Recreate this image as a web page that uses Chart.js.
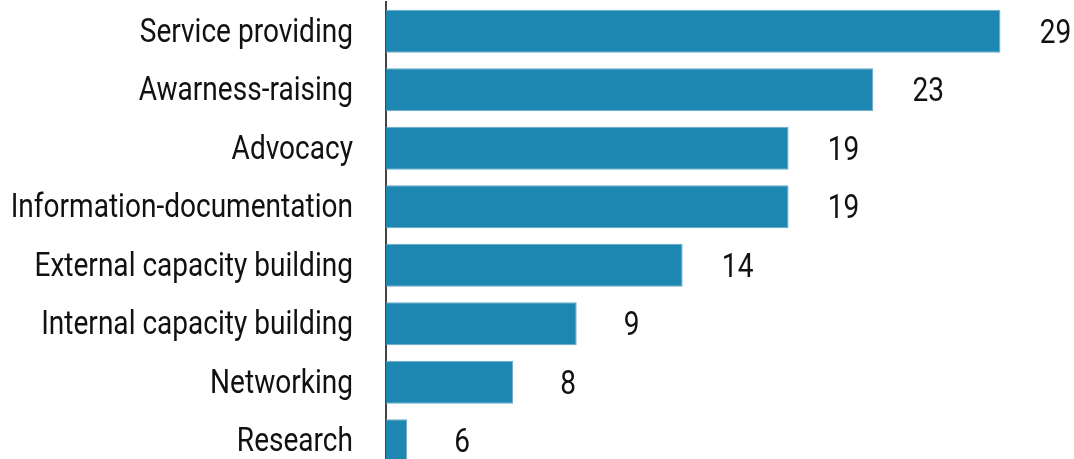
<!DOCTYPE html>
<html>
<head>
<meta charset="utf-8">
<script src="https://cdn.jsdelivr.net/npm/chart.js@4"></script>
<style>
  html, body { margin: 0; padding: 0; background: #fff; overflow: hidden; }
  #wrap { width: 1074px; height: 472px; position: relative; }
</style>
</head>
<body>
<div id="wrap"><canvas id="chart"></canvas></div>
<script>
const categories = [
  "Service providing",
  "Awarness-raising",
  "Advocacy",
  "Information-documentation",
  "External capacity building",
  "Internal capacity building",
  "Networking",
  "Research"
];
// bar lengths as drawn in the picture
const barValues = [29, 23, 19, 19, 14, 9, 6, 1];
// numbers printed beside the bars
const labelValues = [29, 23, 19, 19, 14, 9, 8, 6];

const barColor = "#1e87b1";
const textColor = "#111";
const squeeze = 0.85; // narrow the text like a condensed face

function drawText(ctx, text, x, y, align) {
  ctx.save();
  ctx.translate(x, y);
  ctx.scale(squeeze, 1);
  ctx.textAlign = align;
  ctx.textBaseline = "middle";
  ctx.fillText(text, 0, 0);
  ctx.restore();
}

const labelPlugin = {
  id: "labels",
  afterDatasetsDraw(chart) {
    const ctx = chart.ctx;
    const meta = chart.getDatasetMeta(0);
    ctx.save();
    ctx.fillStyle = textColor;
    ctx.font = "400 33px Roboto";
    meta.data.forEach((bar, i) => {
      drawText(ctx, categories[i], 353, bar.y + 2, "right");
      drawText(ctx, String(labelValues[i]), bar.x + 55, bar.y + 3, "center");
    });
    ctx.restore();
  }
};

new Chart(document.getElementById("chart"), {
  type: "bar",
  data: {
    labels: categories,
    datasets: [{
      data: barValues,
      backgroundColor: barColor,
      borderColor: "#6aa9c8",
      borderWidth: 1,
      barPercentage: 0.735,
      categoryPercentage: 1
    }]
  },
  options: {
    indexAxis: "y",
    responsive: true,
    maintainAspectRatio: false,
    animation: false,
    layout: { padding: { left: 386, right: 10, top: 2, bottom: 2 } },
    plugins: { legend: { display: false }, tooltip: { enabled: false } },
    scales: {
      x: { display: false, min: 0, max: 32 },
      y: {
        ticks: { display: false },
        grid: { display: false, drawTicks: false },
        border: { display: true, color: "#444", width: 2 }
      }
    }
  },
  plugins: [labelPlugin]
});
</script>
</body>
</html>
